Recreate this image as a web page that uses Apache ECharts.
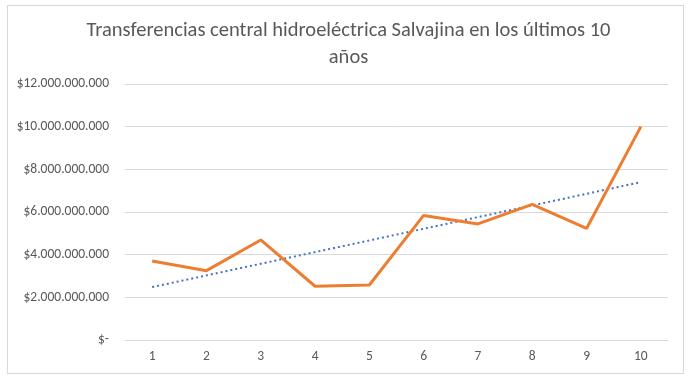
<!DOCTYPE html>
<html>
<head>
<meta charset="utf-8">
<script src="https://cdn.jsdelivr.net/npm/echarts@6/dist/echarts.min.js"></script>
<style>
  html, body { margin: 0; padding: 0; background: #fff; }
  #frame { position: absolute; left: 7px; top: 5px; width: 677px; height: 369px; border: 1px solid #d9d9d9; box-sizing: border-box; }
  #chart { width: 697px; height: 378px; }
</style>
</head>
<body>
<div id="frame"></div>
<div id="chart"></div>
<script>
// años 1..10
const categories = ['1', '2', '3', '4', '5', '6', '7', '8', '9', '10'];
// transferencias (pesos)
const transferencias = [3.70e9, 3.25e9, 4.69e9, 2.52e9, 2.58e9, 5.84e9, 5.44e9, 6.36e9, 5.23e9, 10.0e9];
// línea de tendencia: extremos en el año 1 y el año 10
const tendencia = [2.48e9, null, null, null, null, null, null, null, null, 7.40e9];
const yTicks = [0, 2e9, 4e9, 6e9, 8e9, 10e9, 12e9];

const font = 'Carlito, "Liberation Sans Narrow", "Open Sans", sans-serif';

function formatPesos(v) {
    if (v === 0) return '$-';
    return '$' + Math.round(v).toString().replace(/\B(?=(\d{3})+(?!\d))/g, '.');
}

const chart = echarts.init(document.getElementById('chart'));

chart.setOption({
    animation: false,
    title: {
        text: 'Transferencias central hidroeléctrica Salvajina en los últimos 10\naños',
        left: 'center',
        top: 12,
        textStyle: {
            fontFamily: font,
            fontSize: 20.5,
            fontWeight: 'normal',
            color: '#595959',
            lineHeight: 27,
        },
    },
    grid: {
        left: 125,
        right: 29,
        top: 84,
        bottom: 38,
    },
    xAxis: {
        type: 'category',
        data: categories,
        boundaryGap: true,
        axisLine: { lineStyle: { color: '#d9d9d9' } },
        axisTick: { show: false },
        axisLabel: {
            fontFamily: font,
            fontSize: 13.5,
            color: '#595959',
            margin: 10,
        },
    },
    yAxis: {
        type: 'value',
        min: yTicks[0],
        max: yTicks[yTicks.length - 1],
        interval: 2e9,
        axisLine: { show: false },
        axisTick: { show: false },
        splitLine: { lineStyle: { color: '#d9d9d9' } },
        axisLabel: {
            fontFamily: font,
            fontSize: 13.5,
            color: '#595959',
            margin: 16,
            formatter: formatPesos,
        },
    },
    series: [
        {
            name: 'Transferencias',
            type: 'line',
            data: transferencias,
            symbol: 'none',
            lineStyle: { color: '#ED7D31', width: 3 },
            z: 3,
        },
        {
            name: 'Tendencia',
            type: 'line',
            data: tendencia,
            connectNulls: true,
            symbol: 'none',
            lineStyle: { color: '#4472C4', width: 2, type: [2, 3] },
            z: 2,
        },
    ],
});
</script>
</body>
</html>
